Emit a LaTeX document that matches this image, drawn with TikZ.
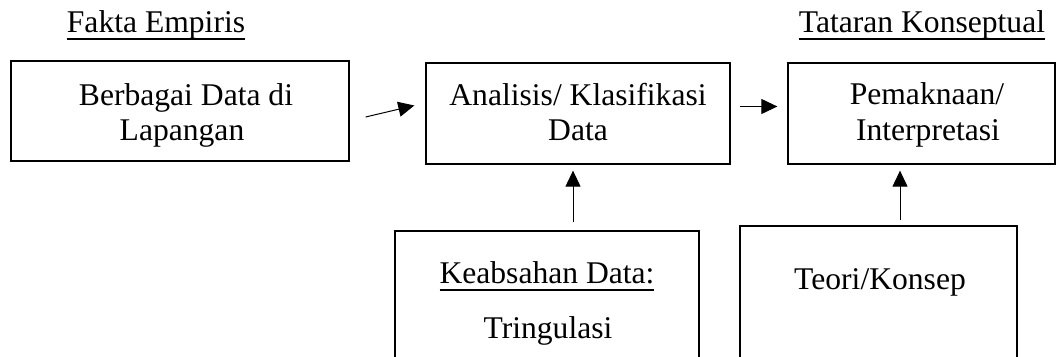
\documentclass[tikz,border=0pt]{standalone}
\usepackage{fontspec}
\setmainfont{Liberation Serif}
\usetikzlibrary{fit,arrows.meta,calc}
\newcommand{\ulx}[1]{\setbox0\hbox{#1}\rlap{\rule[-3.5pt]{\wd0}{1pt}}\box0}
\begin{document}
\begin{tikzpicture}[x=0.5pt,y=-0.5pt,
  box/.style={draw,line width=0.65pt,inner sep=0pt},
  txt/.style={anchor=base,inner sep=0pt,font=\fontsize{15.8}{19}\selectfont},
  arr/.style={line width=0.5pt,-{Triangle[length=8pt,width=7.5pt]}}]
\useasboundingbox (0,0) rectangle (1058,357);
\clip (0,0) rectangle (1058,357);
% titles
\node[txt] (t1) at (156,33) {\ulx{Fakta Empiris}};
\node[txt] (t2) at (922,33) {\ulx{Tataran Konseptual}};
% boxes
\node[box,fit={(11,61) (349,161)}] (b1) {};
\node[box,fit={(426,63) (730,164)}] (b2) {};
\node[box,fit={(788,63) (1055,164)}] (b3) {};
\node[box,fit={(395,231) (699,400)}] (b4) {};
\node[box,fit={(740,226) (1017,400)}] (b5) {};
% texts
\node[txt] (b1a) at (186,106) {Berbagai Data di};
\node[txt] (b1b) at (182,141) {Lapangan};
\node[txt] (b2a) at (578,106) {Analisis/ Klasifikasi};
\node[txt] (b2b) at (578,141) {Data};
\node[txt] (b3a) at (927,105) {Pemaknaan/};
\node[txt] (b3b) at (928,141) {Interpretasi};
\node[txt] (b4a) at (547,284) {\ulx{Keabsahan Data:}};
\node[txt] (b4b) at (548,338) {Tringulasi};
\node[txt] (b5a) at (880,290) {Teori/Konsep};
% arrows
\draw[arr] ($(b1.east)+(16,6)$) -- ($(b2.west)+(-11,-8)$);
\draw[arr] ($(b2.east)+(9,-7)$) -- ($(b3.west)+(-10,-7)$);
\draw[arr] ($(b4.north)+(26,-8)$) -- ($(b2.south)+(-5,6)$);
\draw[arr] ($(b5.north)+(21.5,-5)$) -- ($(b3.south)+(-21.5,6)$);
\end{tikzpicture}
\end{document}
